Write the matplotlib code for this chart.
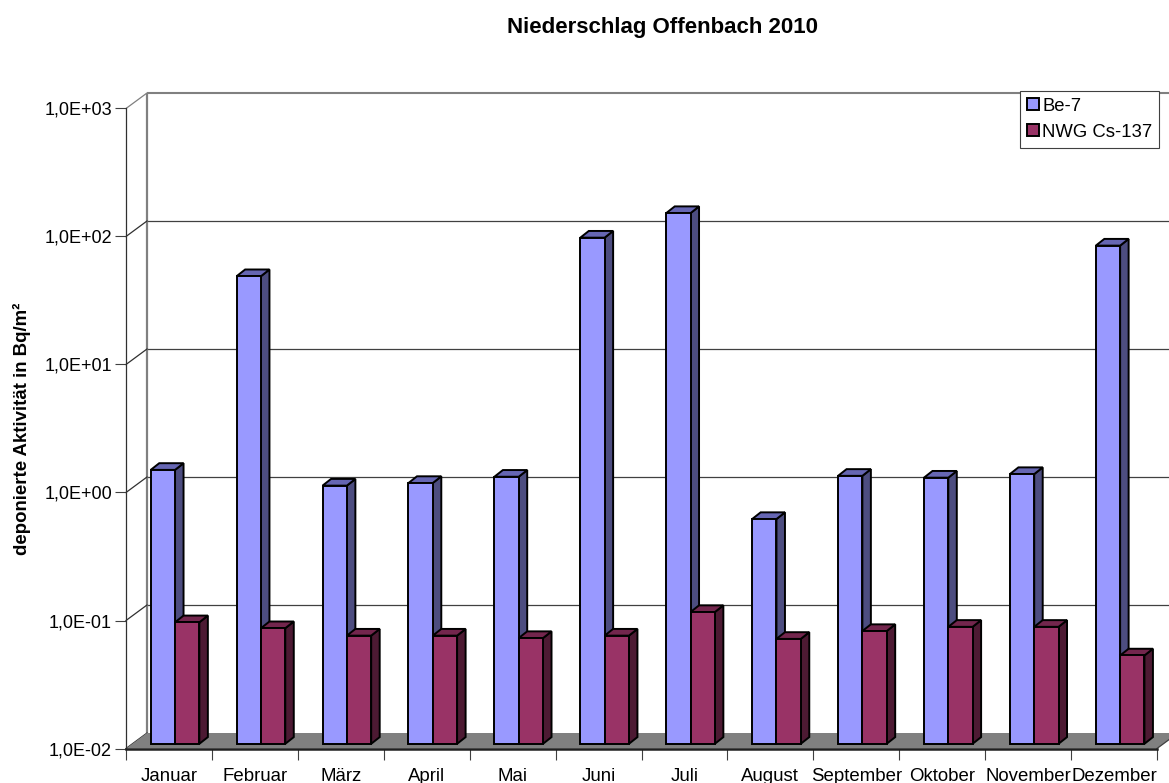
import numpy as np
import matplotlib
matplotlib.use('Agg')
import matplotlib.pyplot as plt
from matplotlib.patches import Polygon
from matplotlib.transforms import Affine2D, IdentityTransform

plt.rcParams['font.family'] = ['Liberation Sans', 'DejaVu Sans']

monate = ['Januar', 'Februar', 'März', 'April', 'Mai', 'Juni', 'Juli', 'August',
          'September', 'Oktober', 'November', 'Dezember']
be7 = [1.38, 45, 1.04, 1.09, 1.22, 90, 140, 0.57, 1.24, 1.2, 1.28, 78]
cs137 = [0.089, 0.08, 0.07, 0.07, 0.067, 0.07, 0.107, 0.066, 0.076, 0.082, 0.082, 0.049]
y_ticks = [1e-2, 1e-1, 1e0, 1e1, 1e2, 1e3]
y_labels = ['1,0E-02', '1,0E-01', '1,0E+00', '1,0E+01', '1,0E+02', '1,0E+03']

W, H = 1169, 783
fig = plt.figure(figsize=(W/100, H/100), dpi=100, facecolor='white')
ax = fig.add_axes([126/W, (H-748.5)/H, 1031/W, 640/H])
ax.patch.set_alpha(0)
ax.set_yscale('log')
ax.set_xlim(0, 12)
ax.set_ylim(1e-2, 1e3)

# pseudo 3D offsets in pixels
wall = (21, 15.5)
vorne = (6, 4.7)
hinten = (14.5, 11.4)
back = ax.transData + Affine2D().translate(*wall)
front = ax.transData + Affine2D().translate(*vorne)


def px(x, y, off=(0, 0)):
    p = ax.transData.transform((x, y))
    return (p[0]+off[0], p[1]+off[1])


# floor
ax.add_patch(Polygon([px(0, 1e-2), px(0, 1e-2, wall), px(12, 1e-2, wall), px(12, 1e-2)],
                     transform=IdentityTransform(), fc='#808080', ec='none',
                     zorder=1, clip_on=False))

# gridlines on the back wall + diagonals on the side wall
ax.hlines(y_ticks[1:-1], 0, 12, transform=back, colors='#404040', lw=0.9, zorder=0, clip_on=False)
ax.hlines(y_ticks[-1], 0, 12, transform=back, colors='#808080', lw=1.5, zorder=0, clip_on=False)
ax.vlines(0, 1e-2, 1e3, transform=back, colors='#808080', lw=1.6, zorder=0, clip_on=False)
for v in y_ticks:
    a, b = px(0, v), px(0, v, wall)
    farbe = '#808080' if v == y_ticks[-1] else '#303030'
    ax.plot([a[0], b[0]], [a[1], b[1]], color=farbe, lw=0.9, transform=IdentityTransform(),
            zorder=0, clip_on=False)
a, b = px(12, 1e-2), px(12, 1e-2, wall)
ax.plot([a[0], b[0]], [a[1], b[1]], color='#404040', lw=0.9, transform=IdentityTransform(),
        zorder=2, clip_on=False)

x = np.arange(12)
breite = 0.283
start = 0.218


def balken(x0, val, farbe, seite, oben, z, label):
    bars = ax.bar(x0, np.array(val)-1e-2, breite, bottom=1e-2, align='edge', color=farbe,
                  edgecolor='black', linewidth=1.4, transform=front, zorder=z+1,
                  clip_on=False, label=label)
    d = (hinten[0]-vorne[0], hinten[1]-vorne[1])
    for xi, v in zip(x0, val):
        l = px(xi, v, vorne)
        r = px(xi+breite, v, vorne)
        u = px(xi+breite, 1e-2, vorne)
        ax.add_patch(Polygon([r, u, (u[0]+d[0], u[1]+d[1]), (r[0]+d[0], r[1]+d[1])],
                             transform=IdentityTransform(), fc=seite, ec='black', lw=1.4,
                             zorder=z, clip_on=False))
        ax.add_patch(Polygon([l, r, (r[0]+d[0], r[1]+d[1]), (l[0]+d[0], l[1]+d[1])],
                             transform=IdentityTransform(), fc=oben, ec='black', lw=1.4,
                             zorder=z, clip_on=False))
    return bars


b1 = balken(x+start, be7, '#9999FF', '#4D4D80', '#6666B3', 3, 'Be-7')
b2 = balken(x+start+breite, cs137, '#993366', '#4D1A33', '#73264D', 5, 'NWG Cs-137')

# axes
for s in ['top', 'right']:
    ax.spines[s].set_visible(False)
ax.spines['left'].set_linewidth(0.9)
ax.spines['left'].set_color('#303030')
ax.spines['bottom'].set_linewidth(1.8)
ax.spines['bottom'].set_color('#202020')
ax.spines['bottom'].set_zorder(8)
ax.set_yticks(y_ticks)
ax.set_yticklabels(y_labels, fontsize=13)
ax.minorticks_off()
ax.tick_params(axis='y', length=8, width=0.8, color='#404040', pad=2)
ax.set_xticks(np.arange(13))
ax.set_xticklabels([])
ax.tick_params(axis='x', which='major', length=8, width=0.8, color='#404040')
ax.set_xticks(x+0.5, minor=True)
ax.set_xticklabels(monate, minor=True, fontsize=13.4)
ax.tick_params(axis='x', which='minor', length=0, pad=14)

fig.text(662.5/W, 1-27.5/H, 'Niederschlag Offenbach 2010', ha='center', va='center',
         fontsize=16, fontweight='bold')
fig.text(22/W, 1-428.5/H, 'deponierte Aktivität in Bq/m²', rotation=90, ha='center', va='center',
         fontsize=13.4, fontweight='bold')

leg = fig.legend(handles=[b1, b2], loc='upper left', bbox_to_anchor=(1019.5/W, 1-90.5/H),
                 fontsize=13.3, frameon=True, fancybox=False, framealpha=1, edgecolor='#404040',
                 handlelength=0.65, handleheight=0.65, handletextpad=0.2, borderpad=0.38,
                 labelspacing=0.5, borderaxespad=0)
leg.get_frame().set_linewidth(0.8)

fig.savefig('out.png', dpi=100)
